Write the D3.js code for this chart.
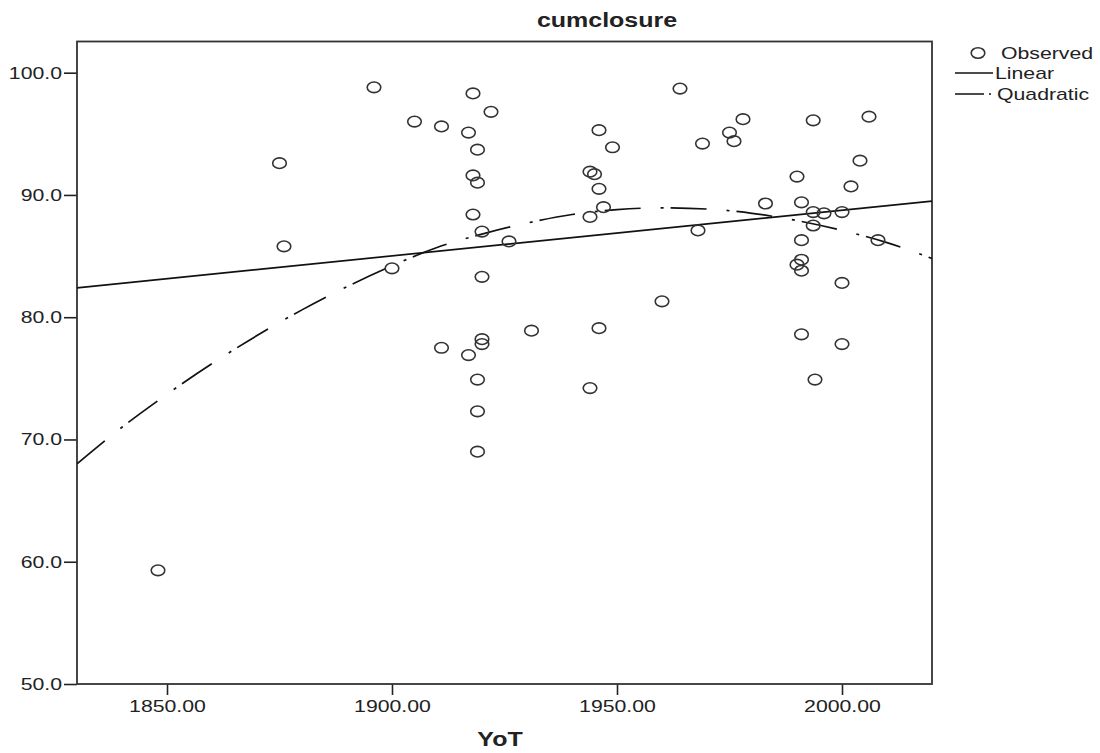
<!DOCTYPE html>
<html>
<head>
<meta charset="utf-8">
<script src="https://cdn.jsdelivr.net/npm/d3@7"></script>
<style>
  body { margin: 0; background: #fff; }
  svg { display: block; }
  text { font-family: Arial, "Liberation Sans", sans-serif; fill: #222; }
</style>
</head>
<body>
<svg id="chart" width="1100" height="753"></svg>
<script>
// observed points (YoT, cumclosure)
const years = [1848, 1875, 1876, 1896, 1900, 1905, 1911, 1911, 1917, 1918,
  1922, 1919, 1918, 1919, 1918, 1920, 1920, 1920, 1920, 1917,
  1919, 1919, 1919, 1926, 1931, 1944, 1945, 1946, 1949, 1946,
  1947, 1944, 1946, 1944, 1960, 1964, 1969, 1968, 1975, 1976,
  1978, 1983, 1990, 1990, 1991, 1991, 1991, 1991, 1991, 1993.6,
  1993.6, 1993.6, 1996, 2000, 2000, 2000, 1994, 2002, 2004, 2006, 2008];
const cumclosure = [59.3, 92.6, 85.8, 98.8, 84.0, 96.0, 95.6, 77.5, 95.1, 98.3,
  96.8, 93.7, 91.6, 91.0, 88.4, 87.0, 83.3, 78.2, 77.8, 76.9,
  74.9, 72.3, 69.0, 86.2, 78.9, 91.9, 91.7, 95.3, 93.9, 90.5,
  89.0, 88.2, 79.1, 74.2, 81.3, 98.7, 94.2, 87.1, 95.1, 94.4,
  96.2, 89.3, 91.5, 84.3, 89.4, 86.3, 84.7, 83.8, 78.6, 88.6,
  87.5, 96.1, 88.5, 88.6, 82.8, 77.8, 74.9, 90.7, 92.8, 96.4, 86.3];

// fitted lines
const linearYears = [1830, 2020];
const linearValues = [82.4, 89.5];
const quadYears = [1830, 1840, 1850, 1860, 1870, 1880, 1890, 1900, 1910, 1920,
  1930, 1940, 1950, 1960, 1970, 1980, 1990, 2000, 2010, 2020];
const quadValues = [68.0, 71.0, 73.7, 76.2, 78.5, 80.6, 82.5, 84.2, 85.7, 86.8,
  87.7, 88.4, 88.8, 88.95, 88.85, 88.5, 87.9, 87.1, 86.1, 84.8];

const xTicks = [1850, 1900, 1950, 2000];
const yTicks = [50, 60, 70, 80, 90, 100];

const stretch = 1.25; // the source image is widened horizontally
const plotLeft = 77, plotRight = 932, plotTop = 41.5, plotBottom = 684;

const svg = d3.select("#chart");
svg.append("rect").attr("width", 1100).attr("height", 753).attr("fill", "#fff");

const x = d3.scaleLinear().domain([1830, 2020]).range([plotLeft, plotRight]);
const y = d3.scaleLinear().domain([50, 102.55]).range([plotBottom, plotTop]);

// axes
const xAxis = svg.append("g")
  .attr("transform", `translate(0,${plotBottom})`)
  .call(d3.axisBottom(x).tickValues(xTicks).tickSize(11).tickPadding(5)
    .tickFormat(d3.format(".2f")));
xAxis.select(".domain").remove();
xAxis.selectAll("line").attr("stroke", "#222").attr("stroke-width", 1.6);
xAxis.selectAll("text")
  .attr("font-size", 17).attr("fill", "#222")
  .attr("transform", `scale(${stretch},1)`);

const yAxis = svg.append("g")
  .attr("transform", `translate(${plotLeft},0)`)
  .call(d3.axisLeft(y).tickValues(yTicks).tickSize(13)
    .tickFormat(d3.format(".1f")));
yAxis.select(".domain").remove();
yAxis.selectAll("line").attr("stroke", "#222").attr("stroke-width", 1.6);
yAxis.selectAll("text")
  .attr("font-size", 17).attr("fill", "#222")
  .attr("x", -15 / stretch)
  .attr("transform", `scale(${stretch},1)`);

// frame
svg.append("rect")
  .attr("x", plotLeft).attr("y", plotTop)
  .attr("width", plotRight - plotLeft).attr("height", plotBottom - plotTop)
  .attr("fill", "none").attr("stroke", "#333").attr("stroke-width", 1.8);

// clip fits to the plot
svg.append("clipPath").attr("id", "plot")
  .append("rect").attr("x", plotLeft).attr("y", plotTop)
  .attr("width", plotRight - plotLeft).attr("height", plotBottom - plotTop);

const line = d3.line().x((d) => x(d[0])).y((d) => y(d[1]));

svg.append("path")
  .datum(linearYears.map((yr, i) => [yr, linearValues[i]]))
  .attr("clip-path", "url(#plot)")
  .attr("d", line)
  .attr("fill", "none").attr("stroke", "#111").attr("stroke-width", 1.7);

svg.append("path")
  .datum(quadYears.map((yr, i) => [yr, quadValues[i]]))
  .attr("clip-path", "url(#plot)")
  .attr("d", line.curve(d3.curveMonotoneX))
  .attr("fill", "none").attr("stroke", "#111").attr("stroke-width", 1.7)
  .attr("stroke-dasharray", "36,20,3,7");

// observed points
svg.append("g").selectAll("ellipse")
  .data(years.map((yr, i) => [yr, cumclosure[i]]))
  .join("ellipse")
  .attr("cx", (d) => x(d[0]))
  .attr("cy", (d) => y(d[1]))
  .attr("rx", 6.8).attr("ry", 5.3)
  .attr("fill", "none").attr("stroke", "#333").attr("stroke-width", 1.6);

// titles
function label(txt, cx, cy, size, weight) {
  svg.append("text")
    .attr("transform", `translate(${cx},${cy}) scale(${stretch},1)`)
    .attr("text-anchor", "middle")
    .attr("font-size", size).attr("font-weight", weight)
    .attr("fill", "#111")
    .text(txt);
}
label("cumclosure", 607, 27, 20, "bold");
label("YoT", 500, 746, 20, "bold");

// legend
const legend = svg.append("g");
legend.append("ellipse").attr("cx", 978).attr("cy", 53).attr("rx", 6.8).attr("ry", 5.3)
  .attr("fill", "none").attr("stroke", "#333").attr("stroke-width", 1.6);
legend.append("line").attr("x1", 955).attr("x2", 993).attr("y1", 73).attr("y2", 73)
  .attr("stroke", "#111").attr("stroke-width", 1.6);
legend.append("line").attr("x1", 955).attr("x2", 993).attr("y1", 94).attr("y2", 94)
  .attr("stroke", "#111").attr("stroke-width", 1.6)
  .attr("stroke-dasharray", "29,5,2,10");
const legendItems = [["Observed", 1001, 59], ["Linear", 995, 79], ["Quadratic", 997, 100]];
legendItems.forEach(([txt, lx, ly]) => {
  legend.append("text")
    .attr("transform", `translate(${lx},${ly}) scale(${stretch},1)`)
    .attr("font-size", 17).attr("fill", "#222")
    .text(txt);
});
</script>
</body>
</html>
